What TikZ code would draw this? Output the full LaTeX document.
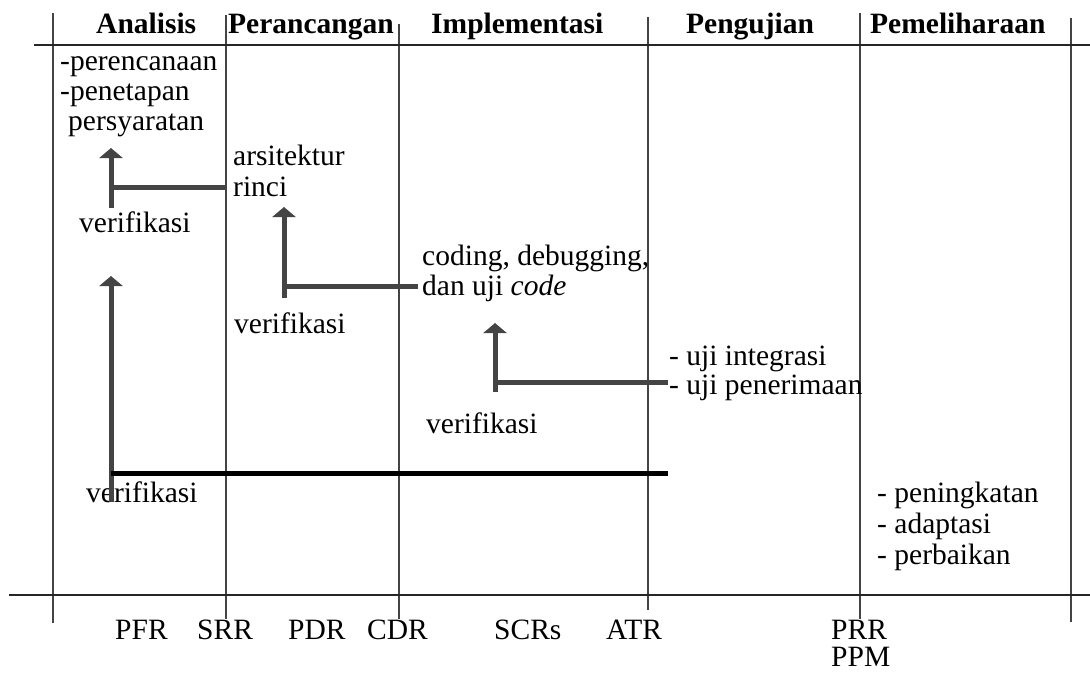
\documentclass[tikz,border=0pt]{standalone}
\usepackage{fontspec}
\setmainfont{Liberation Serif}
\usetikzlibrary{arrows.meta}
\definecolor{rulegray}{HTML}{444444}
\begin{document}
\begin{tikzpicture}[x=1pt,y=-1pt,
  lbl/.style={anchor=base west,inner sep=0pt,font=\fontsize{29.5}{30}\selectfont},
  head/.style={anchor=base west,inner sep=0pt,font=\fontsize{29.5}{30}\selectfont\bfseries},
  phase/.style={draw=rulegray,line width=2.5pt},
  axis/.style={draw=black!85,line width=2pt},
  feedback/.style={draw=rulegray,line width=5pt},
  upfeed/.style={feedback,-{Triangle[width=23pt,length=10pt]}},
  mainfeed/.style={draw=black,line width=5pt}]
\useasboundingbox (0,0) rectangle (1090,673);

% phase boundaries
\foreach \n/\x/\t/\b in {a/53/13/623, b/226/15/619, c/399/24/619, d/648/17/610, e/860/13/619, f/1071/18/622}{
  \coordinate (\n top) at (\x,\t);
  \coordinate (\n bot) at (\x,\b);
  \draw[phase] (\n top) -- (\n bot);
}
% header rule and milestone axis
\coordinate (hl) at (34,45);   \coordinate (hr) at (1090,45);
\coordinate (ml) at (9,595);   \coordinate (mr) at (1090,595);
\draw[axis] (hl) -- (hr);
\draw[axis] (ml) -- (mr);

% phase titles
\node[head] (hA) at (96,33)  {Analisis};
\node[head] (hP) at (228,33) {Perancangan};
\node[head] (hI) at (431,33) {Implementasi};
\node[head] (hU) at (686,33) {Pengujian};
\node[head] (hM) at (870,33) {Pemeliharaan};

% activities
\node[lbl] (an1) at (60,70)  {-perencanaan};
\node[lbl] (an2) at (60,100) {-penetapan};
\node[lbl] (an3) at (68,130) {persyaratan};

\node[lbl] (ds1) at (233,165) {arsitektur};
\node[lbl] (ds2) at (233,196) {rinci};

\node[lbl] (im1) at (422,265) {coding, debugging,};
\node[lbl] (im2) at (422,295) {dan uji \textit{code}};

\node[lbl] (ts1) at (669,365) {- uji integrasi};
\node[lbl] (ts2) at (669,394) {- uji penerimaan};

\node[lbl] (mt1) at (877,502) {- peningkatan};
\node[lbl] (mt2) at (877,533) {- adaptasi};
\node[lbl] (mt3) at (877,564) {- perbaikan};

% verification labels
\node[lbl] (v1) at (79,232)  {verifikasi};
\node[lbl] (v2) at (234,333) {verifikasi};
\node[lbl] (v3) at (426,433) {verifikasi};
\node[lbl] (v4) at (86,502)  {verifikasi};

% milestones
\node[lbl] (m1) at (115,639) {PFR};
\node[lbl] (m2) at (197,639) {SRR};
\node[lbl] (m3) at (288,639) {PDR};
\node[lbl] (m4) at (367,639) {CDR};
\node[lbl] (m5) at (494,639) {SCRs};
\node[lbl] (m6) at (606,639) {ATR};
\node[lbl] (m7) at (831,639) {PRR};
\node[lbl] (m8) at (831,666) {PPM};

% feedback: design -> analysis
\coordinate (f1s) at (111,208); \coordinate (f1t) at (111,148);
\coordinate (f1j) at (111,187); \coordinate (f1e) at (226,187);
\draw[upfeed] (f1s) -- (f1t);
\draw[feedback] (f1j) -- (f1e);

% feedback: implementation -> design
\coordinate (f2s) at (284,298); \coordinate (f2t) at (284,207);
\coordinate (f2j) at (284,286); \coordinate (f2e) at (418,286);
\draw[upfeed] (f2s) -- (f2t);
\draw[feedback] (f2j) -- (f2e);

% feedback: testing -> implementation
\coordinate (f3s) at (495,392); \coordinate (f3t) at (495,323);
\coordinate (f3j) at (495,382); \coordinate (f3e) at (668,382);
\draw[upfeed] (f3s) -- (f3t);
\draw[feedback] (f3j) -- (f3e);

% overall feedback: testing -> analysis
\coordinate (f4s) at (111,502); \coordinate (f4t) at (111,276);
\coordinate (f4j) at (111,473); \coordinate (f4e) at (668,473);
\draw[upfeed] (f4s) -- (f4t);
\draw[mainfeed] (f4j) -- (f4e);
\end{tikzpicture}
\end{document}
